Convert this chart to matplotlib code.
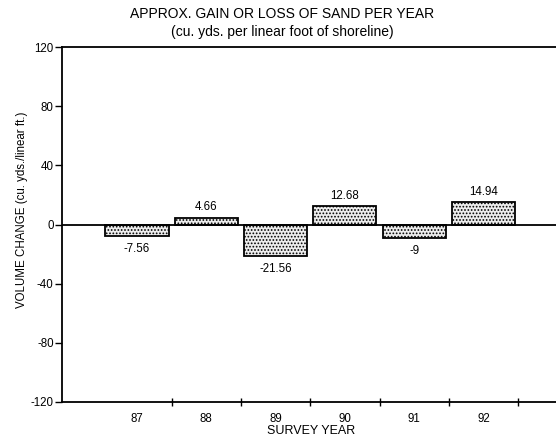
import matplotlib
matplotlib.use("Agg")
import matplotlib.pyplot as plt
import numpy as np

plt.rcParams['font.family'] = ['Liberation Sans', 'DejaVu Sans']
plt.rcParams['axes.unicode_minus'] = False
plt.rcParams['hatch.linewidth'] = 0.8

years = ["87", "88", "89", "90", "91", "92"]
changes = [-7.56, 4.66, -21.56, 12.68, -9, 14.94]
change_labels = ["-7.56", "4.66", "-21.56", "12.68", "-9", "14.94"]
yticks = [-120, -80, -40, 0, 40, 80, 120]

W, H = 556, 438
fig = plt.figure(figsize=(W / 100, H / 100), dpi=100)
ax = fig.add_axes([62 / W, 1 - 402 / H, (556 - 62) / W, (402 - 47) / H])

x = np.arange(1, len(years) + 1)
ax.bar(x, changes, width=0.91, facecolor='#ececec', edgecolor='black',
       linewidth=1.3, hatch='.....', zorder=2)
ax.axhline(0, color='black', linewidth=1.3, zorder=3)

for xi, v, lab in zip(x, changes, change_labels):
    if v >= 0:
        ax.annotate(lab, (xi, v), xytext=(0, 3), textcoords='offset points',
                    ha='center', va='bottom', fontsize=8.3)
    else:
        ax.annotate(lab, (xi, v), xytext=(0, -5), textcoords='offset points',
                    ha='center', va='top', fontsize=8.3)

ax.set_xlim(-0.082, 7.046)
ax.set_ylim(-120, 120)
ax.set_yticks(yticks)
ax.set_yticklabels([str(t) for t in yticks], fontsize=8.3)
ax.tick_params(axis='y', direction='out', length=5, width=1, pad=1)

ax.set_xticks(x)
ax.set_xticklabels(years, fontsize=8.3)
ax.set_xticks(np.arange(1.5, 7, 1.0), minor=True)
ax.tick_params(axis='x', which='major', length=0, pad=8)
ax.tick_params(axis='x', which='minor', direction='inout', length=6, width=1)

for s in ['left', 'bottom', 'top']:
    ax.spines[s].set_linewidth(1.3)
ax.spines['right'].set_visible(False)

fig.text(311 / W, 1 - 431 / H, "SURVEY YEAR", ha='center', va='center', fontsize=9)
fig.text(22 / W, 1 - 210 / H, "VOLUME CHANGE (cu. yds./linear ft.)", ha='center',
         va='center', rotation=90, fontsize=8.3)
fig.text(282 / W, 1 - 14 / H, "APPROX. GAIN OR LOSS OF SAND PER YEAR",
         ha='center', va='center', fontsize=10)
fig.text(282 / W, 1 - 32 / H, "(cu. yds. per linear foot of shoreline)",
         ha='center', va='center', fontsize=10)

fig.savefig("out.png", dpi=100)
